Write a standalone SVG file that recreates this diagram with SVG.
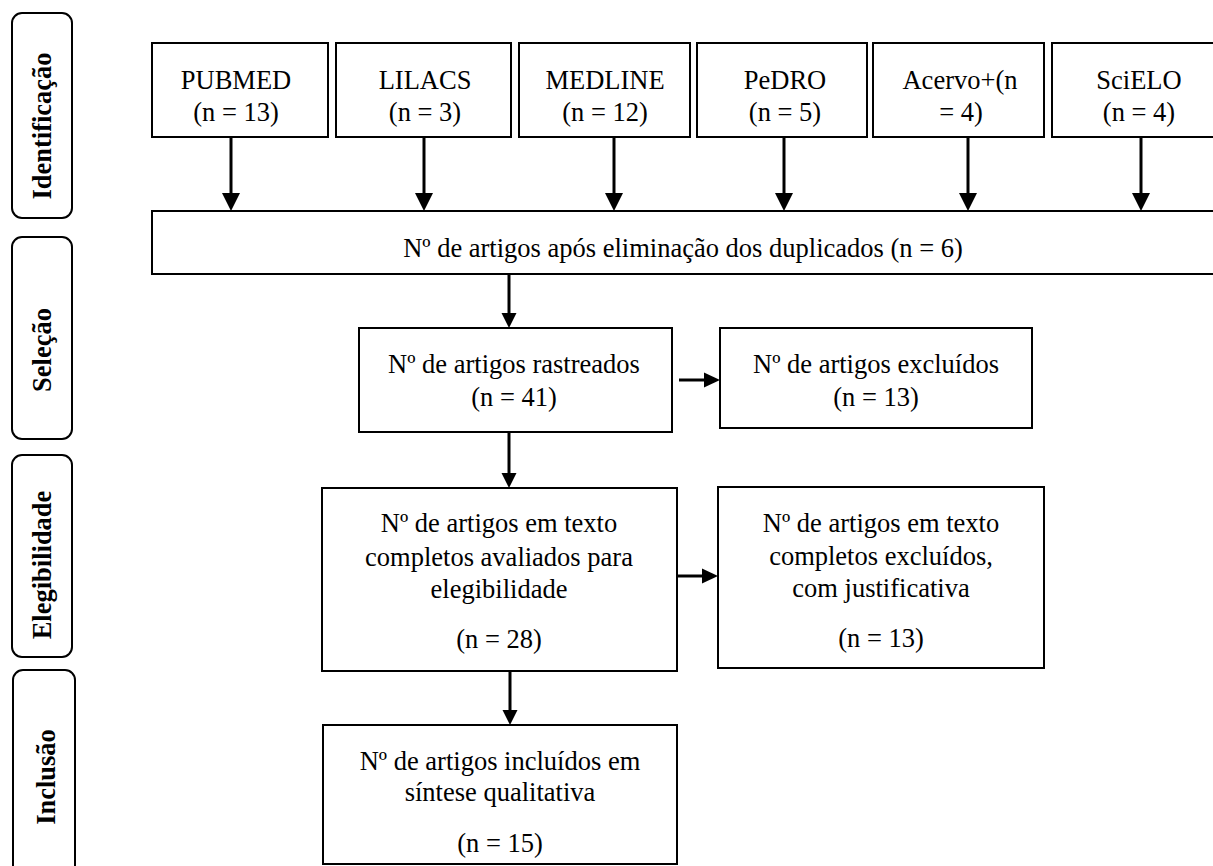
<svg xmlns="http://www.w3.org/2000/svg" width="1213" height="866" viewBox="0 0 1213 866">
<style>
.box{fill:#fff;stroke:#000;stroke-width:2}
.side{fill:#fff;stroke:#000;stroke-width:2}
.t{font-family:"Liberation Serif","Times New Roman",serif;font-size:26.5px;fill:#000;text-anchor:middle}
.b{font-family:"Liberation Serif","Times New Roman",serif;font-size:26.5px;font-weight:bold;fill:#000;text-anchor:middle}
.ln{stroke:#000;stroke-width:3;fill:none}
.hd{fill:#000}
</style>
<rect width="1213" height="866" fill="#fff"/>
<g id="phase-identificacao"><rect class="side" x="12" y="13" width="60" height="205" rx="10"/><text class="b" transform="translate(51,126) rotate(-90)">Identificação</text></g>
<g id="phase-selecao"><rect class="side" x="12" y="237" width="60" height="202" rx="10"/><text class="b" transform="translate(51,350) rotate(-90)">Seleção</text></g>
<g id="phase-elegibilidade"><rect class="side" x="12" y="455" width="60" height="202" rx="10"/><text class="b" transform="translate(51,565) rotate(-90)">Elegibilidade</text></g>
<g id="phase-inclusao"><rect class="side" x="13" y="670" width="62" height="215" rx="10"/><text class="b" transform="translate(55,777) rotate(-90)">Inclusão</text></g>

<g id="pubmed"><rect class="box" x="152" y="43" width="176" height="94"/><text class="t" x="236" y="89">PUBMED</text><text class="t" x="236" y="121">(n = 13)</text></g>
<g id="lilacs"><rect class="box" x="336" y="43" width="175" height="94"/><text class="t" x="425" y="89">LILACS</text><text class="t" x="425" y="121">(n = 3)</text></g>
<g id="medline"><rect class="box" x="519" y="43" width="171" height="94"/><text class="t" x="605" y="89">MEDLINE</text><text class="t" x="605" y="121">(n = 12)</text></g>
<g id="pedro"><rect class="box" x="697" y="43" width="170" height="94"/><text class="t" x="785" y="89">PeDRO</text><text class="t" x="785" y="121">(n = 5)</text></g>
<g id="acervo"><rect class="box" x="873" y="43" width="171" height="94"/><text class="t" x="960" y="89">Acervo+(n</text><text class="t" x="961" y="121">= 4)</text></g>
<g id="scielo"><rect class="box" x="1052" y="43" width="175" height="94"/><text class="t" x="1139" y="89">SciELO</text><text class="t" x="1139" y="121">(n = 4)</text></g>

<g id="duplicados"><rect class="box" x="152" y="211" width="1075" height="63"/><text class="t" x="683" y="257">Nº de artigos após eliminação dos duplicados (n = 6)</text></g>

<g id="rastreados"><rect class="box" x="359" y="328" width="313" height="104"/><text class="t" x="514" y="373">Nº de artigos rastreados</text><text class="t" x="514" y="406">(n = 41)</text></g>
<g id="excluidos"><rect class="box" x="720" y="328" width="312" height="100"/><text class="t" x="876" y="373">Nº de artigos excluídos</text><text class="t" x="876" y="406">(n = 13)</text></g>

<g id="elegibilidade"><rect class="box" x="322" y="488" width="355" height="183"/><text class="t" x="499" y="532">Nº de artigos em texto</text><text class="t" x="499" y="566">completos avaliados para</text><text class="t" x="499" y="598">elegibilidade</text><text class="t" x="499" y="648">(n = 28)</text></g>
<g id="excluidos-justificativa"><rect class="box" x="718" y="487" width="326" height="181"/><text class="t" x="881" y="532">Nº de artigos em texto</text><text class="t" x="881" y="565">completos excluídos,</text><text class="t" x="881" y="597">com justificativa</text><text class="t" x="881" y="647">(n = 13)</text></g>

<g id="incluidos"><rect class="box" x="323" y="725" width="354" height="139"/><text class="t" x="500" y="770">Nº de artigos incluídos em</text><text class="t" x="500" y="801">síntese qualitativa</text><text class="t" x="500" y="852">(n = 15)</text></g>

<g id="connectors">
<line class="ln" x1="231" y1="137" x2="231" y2="194"/><path class="hd" d="M222,193 L240,193 L231,211 Z"/>
<line class="ln" x1="424" y1="137" x2="424" y2="194"/><path class="hd" d="M415,193 L433,193 L424,211 Z"/>
<line class="ln" x1="614" y1="137" x2="614" y2="194"/><path class="hd" d="M605,193 L623,193 L614,211 Z"/>
<line class="ln" x1="784" y1="137" x2="784" y2="194"/><path class="hd" d="M775,193 L793,193 L784,211 Z"/>
<line class="ln" x1="968" y1="137" x2="968" y2="194"/><path class="hd" d="M959,193 L977,193 L968,211 Z"/>
<line class="ln" x1="1141" y1="137" x2="1141" y2="194"/><path class="hd" d="M1132,193 L1150,193 L1141,211 Z"/>
<line class="ln" x1="509" y1="274" x2="509" y2="314"/><path class="hd" d="M501.5,313 L516.5,313 L509,328 Z"/>
<line class="ln" x1="509" y1="432" x2="509" y2="474"/><path class="hd" d="M501.5,473 L516.5,473 L509,488 Z"/>
<line class="ln" x1="510" y1="671" x2="510" y2="711"/><path class="hd" d="M502.5,710 L517.5,710 L510,725 Z"/>
<line class="ln" x1="679" y1="380" x2="706" y2="380"/><path class="hd" d="M704,372.5 L720,380 L704,387.5 Z"/>
<line class="ln" x1="677" y1="576" x2="704" y2="576"/><path class="hd" d="M702,568.5 L718,576 L702,583.5 Z"/>
</g>
</svg>
